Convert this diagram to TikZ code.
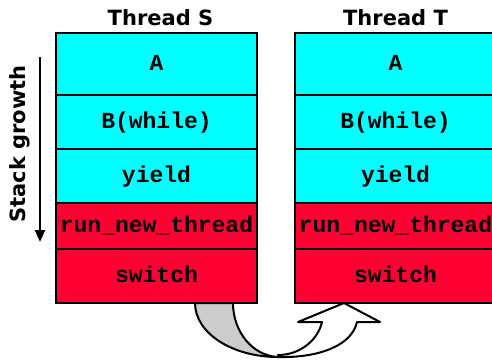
\documentclass[tikz,border=0pt]{standalone}
\usepackage{fontspec}
\setsansfont{DejaVu Sans}
\setmonofont{Liberation Mono}
\usepackage{xcolor}
\usetikzlibrary{arrows.meta, positioning, backgrounds}
\definecolor{stackcyan}{RGB}{0,255,255}
\definecolor{kernelred}{RGB}{255,0,51}
\definecolor{ribbongray}{RGB}{204,204,204}
\tikzset{
  framebox/.style={
    rectangle, draw, line width=2.5pt, outer sep=0pt, inner sep=0pt,
    minimum width=201pt, text height=12pt, text depth=0pt,
    font=\fontsize{23}{27}\selectfont\ttfamily\bfseries
  },
  usercell/.style={
    framebox, fill=stackcyan
  },
  kernelcell/.style={
    framebox, fill=kernelred
  },
  threadtitle/.style={
    anchor=base, font=\fontsize{21}{25}\selectfont\sffamily\bfseries
  },
  growarrow/.style={
    line width=2.5pt, -{Triangle[length=12pt,width=10pt]}
  },
  ribbon/.style={
    draw, line width=2pt, line join=round
  }
}

\begin{document}
\begin{tikzpicture}[x=1pt, y=1pt]
  \useasboundingbox (0,0) rectangle (492,-360);
  % thread S
  \node[usercell, minimum height=62pt, anchor=north west] (sA) at (56,-33) {A};
  \node[usercell, minimum height=54pt, below=0pt of sA] (sB) {B(while)};
  \node[usercell, minimum height=54pt, below=0pt of sB] (sYield) {yield};
  \node[kernelcell, minimum height=46pt, below=0pt of sYield] (sRun) {run\_new\_thread};
  \node[kernelcell, minimum height=54pt, below=0pt of sRun] (sSwitch) {switch};
  % thread T
  \node[usercell, minimum height=62pt, anchor=north west] (tA) at (295,-33) {A};
  \node[usercell, minimum height=54pt, below=0pt of tA] (tB) {B(while)};
  \node[usercell, minimum height=54pt, below=0pt of tB] (tYield) {yield};
  \node[kernelcell, minimum height=46pt, below=0pt of tYield] (tRun) {run\_new\_thread};
  \node[kernelcell, minimum height=54pt, below=0pt of tRun] (tSwitch) {switch};

  \node[threadtitle] (titleS) at ([xshift=4pt, yshift=8pt]sA.north) {Thread S};
  \node[threadtitle] (titleT) at ([yshift=8pt]tA.north) {Thread T};

  % stack growth
  \coordinate (growTop) at (40,-57);
  \coordinate (growEnd) at (40,-242);
  \draw[growarrow] (growTop) -- (growEnd);
  \node[rotate=90, font=\fontsize{21}{25}\selectfont\sffamily\bfseries] (growLabel) at (20,-144) {Stack growth};

  % switch ribbon
  \begin{scope}[on background layer]
    \path[ribbon, fill=ribbongray] (195,-303) .. controls (195,-333) and (232,-357) .. (278,-357)
      .. controls (253,-356) and (233,-332) .. (233,-303) -- cycle;
    \path[ribbon, fill=white] (278,-357) .. controls (320,-358) and (352,-345) .. (357,-322)
      -- (380,-322) -- (344,-303) -- (298,-322) -- (322,-322)
      .. controls (318,-340) and (300,-355) .. (278,-355) -- cycle;
  \end{scope}
\end{tikzpicture}
\end{document}
